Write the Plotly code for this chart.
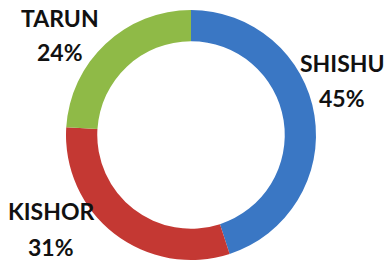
import plotly.graph_objects as go

categories = ["SHISHU", "KISHOR", "TARUN"]
values = [45, 31, 24]
colors = ["#3a77c4", "#c43833", "#8fba47"]

W, H = 387, 264
# label centres in pixels: (x, y of name line, y of percent line)
label_pos = {"SHISHU": (342, 63, 98), "KISHOR": (51, 211, 247), "TARUN": (60, 18, 52)}

fig = go.Figure()
fig.add_trace(go.Pie(
    labels=categories,
    values=values,
    hole=0.75,
    sort=False,
    direction="clockwise",
    rotation=0,
    marker=dict(colors=colors, line=dict(width=0)),
    textinfo="none",
    hoverinfo="label+percent",
    showlegend=False,
    domain=dict(x=[(191 - 125) / W, (191 + 125) / W], y=[4 / H, 254 / H]),
))

total = sum(values)
for cat, v in zip(categories, values):
    x, y1, y2 = label_pos[cat]
    for txt, yy in ((cat, y1), (f"{round(100 * v / total)}%", y2)):
        fig.add_annotation(
            x=x / W, y=1 - yy / H, xref="paper", yref="paper",
            text=f"<b>{txt}</b>",
            showarrow=False, align="center",
            font=dict(family="Lato", size=23, color="#111111"),
            xanchor="center", yanchor="middle",
        )

fig.update_layout(
    width=W, height=H,
    margin=dict(l=0, r=0, t=0, b=0),
    paper_bgcolor="white", plot_bgcolor="white",
)
fig.write_html("out.html", config={"displayModeBar": False},
               post_script="document.body.style.margin='0';")
